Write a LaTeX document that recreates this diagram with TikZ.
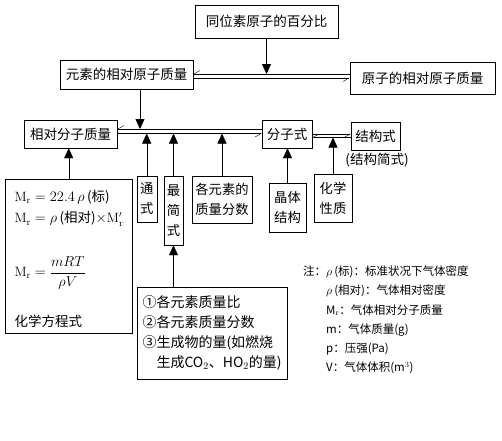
\documentclass[tikz,border=0pt]{standalone}
\usepackage{fontspec}
\setmainfont{Noto Sans CJK SC}
\setmathrm{Latin Modern Roman}
\usepackage{tikz}
\usetikzlibrary{arrows.meta, positioning, calc}
\tikzset{
    conceptbox/.style={rectangle, draw, thin, inner sep=2pt, text centered,
        font=\fontsize{13.5}{16}\selectfont},
    stackbox/.style={conceptbox, align=center, font=\fontsize{13.3}{20}\selectfont},
    feedarrow/.style={-{Triangle[length=10pt, width=9pt]}, thin},
    backharp/.style={-{Straight Barb[harpoon, swap, length=6pt, width=7pt]}, thin},
    fwdharp/.style={-{Straight Barb[harpoon, swap, length=6pt, width=7pt]}, thin},
}

\begin{document}
\begin{tikzpicture}[x=1pt, y=-1pt]
    \useasboundingbox (0,0) rectangle (502,440);

    \node[conceptbox, minimum width=143pt, minimum height=33pt] (iso) at (266.5,21.5) {同位素原子的百分比};
    \node[conceptbox, minimum width=133pt, minimum height=29pt] (elem) at (126.5,74.5) {元素的相对原子质量};
    \node[conceptbox, minimum width=145pt, minimum height=32pt] (atom) at (422.5,78) {原子的相对原子质量};
    \node[conceptbox, minimum width=93pt, minimum height=28pt] (mol) at (70.5,134) {相对分子质量};
    \node[conceptbox, minimum width=50pt, minimum height=28pt] (fmol) at (287,134) {分子式};
    \node[conceptbox, minimum width=49pt, minimum height=28pt] (struct) at (375.5,136) {结构式};
    \node[font=\fontsize{13.5}{16}\selectfont, inner sep=0pt] (simple) at (377,160) {(结构简式)};

    \node[stackbox, minimum width=20pt, minimum height=46pt] (tong) at (146.7,199) {通\\式};
    \node[stackbox, minimum width=19pt, minimum height=69pt] (zuijian) at (173.5,210.5) {最\\简\\式};
    \node[stackbox, minimum width=60pt, minimum height=47pt] (massfrac) at (222,199.5) {各元素的\\质量分数};
    \node[stackbox, minimum width=37pt, minimum height=49pt] (crystal) at (287.5,207.5) {晶体\\结构};
    \node[stackbox, minimum width=38pt, minimum height=48pt] (chem) at (333,198) {化学\\性质};

    % formula box
    \node[draw, thin, minimum width=127pt, minimum height=154pt, anchor=north west] (formula) at (5,179) {};
    \node[anchor=west, font=\fontsize{13.5}{16}\selectfont] (f1) at (11,197) {$\mathrm{M_r}=22.4\,\rho\,$(标)};
    \node[anchor=west, font=\fontsize{13.5}{16}\selectfont] (f2) at (11,219) {$\mathrm{M_r}=\rho\,$(相对)$\times\mathrm{M}'_{\mathrm{r}}$};
    \node[anchor=west, font=\fontsize{13.5}{16}\selectfont] (f3) at (11,273) {$\mathrm{M_r}=\displaystyle\frac{mRT}{\rho V}$};
    \node[anchor=west, font=\fontsize{13.5}{16}\selectfont] (f4) at (11,321) {化学方程式};

    \node[conceptbox, align=left, text width=140pt, inner xsep=5pt, minimum height=92pt,
        font=\fontsize{14}{19.8}\selectfont] (ratio) at (212.5,333)
        {①各元素质量比\\②各元素质量分数\\③生成物的量(如燃烧\\\hspace*{1em}生成CO$_2$、HO$_2$的量)};

    \node[anchor=west, align=left, inner sep=0pt, font=\fontsize{11.5}{19.2}\selectfont] (note) at (303,320)
        {注：$\rho\,$(标)：标准状况下气体密度\\
         \phantom{注：}$\rho\,$(相对)：气体相对密度\\
         \phantom{注：}M$_\mathrm{r}$：气体相对分子质量\\
         \phantom{注：}m：气体质量(g)\\
         \phantom{注：}p：压强(Pa)\\
         \phantom{注：}V：气体体积(m$^3$)};

    % double lines
    \coordinate (eA) at ([yshift=0.5pt]elem.east);
    \coordinate (eB) at ([yshift=-3.5pt]elem.east);
    \draw[backharp] (eA -| atom.west) -- (eA);
    \draw[fwdharp] (eB) -- (eB -| atom.west);

    \coordinate (mA) at ([yshift=5pt]mol.east);
    \coordinate (mB) at ([yshift=0.5pt]mol.east);
    \draw[backharp] (mA -| fmol.west) -- (mA);
    \draw[fwdharp] (mB) -- (mB -| fmol.west);

    \coordinate (sA) at (fmol.east);
    \coordinate (sB) at ([yshift=-3.5pt]fmol.east);
    \draw[fwdharp] (sA) -- (sA -| struct.west);
    \draw[backharp] (sB -| struct.west) -- (sB);

    % arrows
    \draw[feedarrow] (iso.south) -- (iso.south |- eA);
    \draw[feedarrow] ([xshift=13.5pt]elem.south) coordinate (eS) -- (eS |- mA);
    \draw[feedarrow] (tong.north) -- (tong.north |- mB);
    \draw[feedarrow] (zuijian.north) -- (zuijian.north |- mB);
    \draw[feedarrow] (massfrac.north) -- (massfrac.north |- mB);
    \draw[feedarrow] (crystal.north) -- (crystal.north |- fmol.south);
    \draw[feedarrow] (chem.north) -- (chem.north |- sB);
    \draw[feedarrow] (formula.north) -- (formula.north |- mol.south);
    \draw[feedarrow] (ratio.north -| zuijian.south) -- (zuijian.south);
\end{tikzpicture}
\end{document}
